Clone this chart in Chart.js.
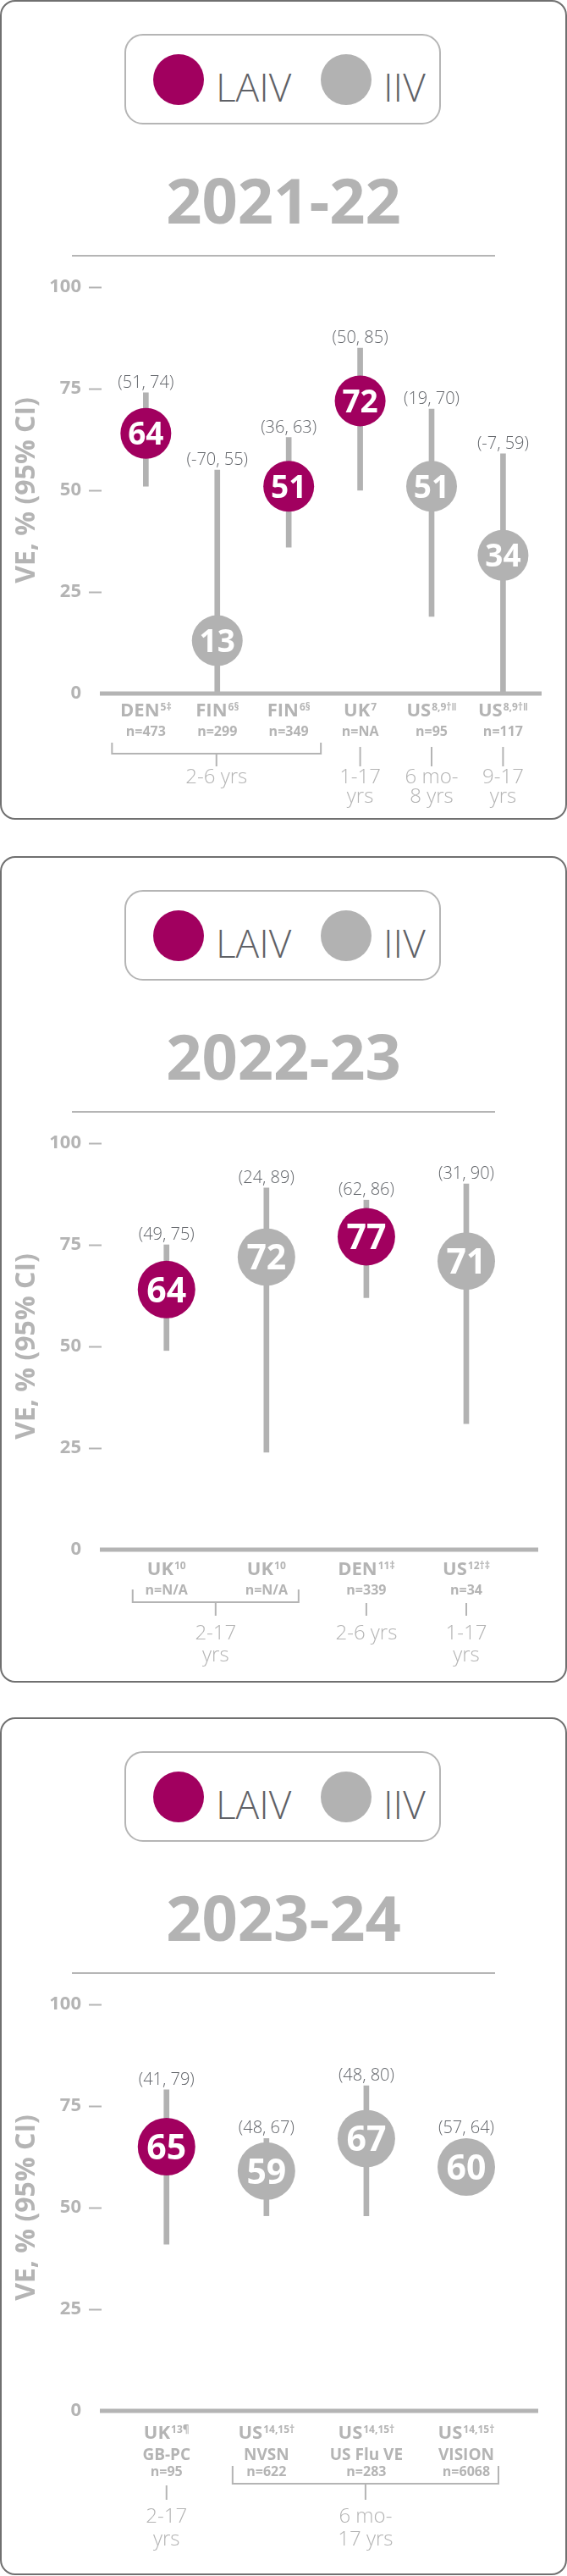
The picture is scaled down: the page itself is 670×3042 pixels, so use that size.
<!DOCTYPE html>
<html>
<head>
<meta charset="utf-8">
<script src="https://cdn.jsdelivr.net/npm/chart.js@4.4.1/dist/chart.umd.min.js"></script>
<style>
  body { margin: 0; background: #fff; font-family: "Open Sans", sans-serif; }
  #page { position: relative; width: 670px; height: 3042px; }
  .panel { position: absolute; left: 0; width: 670px; }
  .frame { position: absolute; left: 0; top: 0; right: 0; bottom: 0; border: 2px solid #707070; border-radius: 18px; box-sizing: border-box; }
  .legend { position: absolute; left: 147px; top: 40px; width: 374px; height: 107px; border: 2px solid #b5b5b5; border-radius: 22px; box-sizing: border-box; }
  .dot { position: absolute; top: 22px; width: 60px; height: 60px; border-radius: 50%; }
  .lab { position: absolute; top: 37px; font-size: 46px; line-height: 46px; color: #5f6166; font-weight: 300; }
  .title { position: absolute; left: 0; top: 199px; width: 670px; text-align: center; font-size: 74px; line-height: 74px; font-weight: 700; color: #b3b3b3; }
  .sep { position: absolute; left: 85px; top: 301px; width: 500px; height: 2px; background: #b5b5b5; }
  canvas { position: absolute; left: 0; top: 0; }
</style>
</head>
<body>
<div id="page"></div>
<script>
// colours
const LAIV_COLOR = '#a1005f';
const IIV_COLOR = '#b2b2b2';
const AXIS_GRAY = '#b4b4b4';

const yTicks = [0, 25, 50, 75, 100];

// 2021-22
const sites2122 = ['DEN', 'FIN', 'FIN', 'UK', 'US', 'US'];
const refs2122 = ['5‡', '6§', '6§', '7', '8,9†‖', '8,9†‖'];
const nLabels2122 = ['n=473', 'n=299', 'n=349', 'n=NA', 'n=95', 'n=117'];
const vaccine2122 = ['LAIV', 'IIV', 'LAIV', 'LAIV', 'IIV', 'IIV'];
const ve2122 = [64, 13, 51, 72, 51, 34];
const ciLow2122 = [51, -70, 36, 50, 19, -7];
const ciHigh2122 = [74, 55, 63, 85, 70, 59];
const ages2122 = [
  { from: 0, to: 2, text: ['2-6 yrs'] },
  { from: 3, to: 3, text: ['1-17', 'yrs'] },
  { from: 4, to: 4, text: ['6 mo-', '8 yrs'] },
  { from: 5, to: 5, text: ['9-17', 'yrs'] }
];

// 2022-23
const sites2223 = ['UK', 'UK', 'DEN', 'US'];
const refs2223 = ['10', '10', '11‡', '12†‡'];
const nLabels2223 = ['n=N/A', 'n=N/A', 'n=339', 'n=34'];
const vaccine2223 = ['LAIV', 'IIV', 'LAIV', 'IIV'];
const ve2223 = [64, 72, 77, 71];
const ciLow2223 = [49, 24, 62, 31];
const ciHigh2223 = [75, 89, 86, 90];
const ages2223 = [
  { from: 0, to: 1, text: ['2-17', 'yrs'] },
  { from: 2, to: 2, text: ['2-6 yrs'] },
  { from: 3, to: 3, text: ['1-17', 'yrs'] }
];

// 2023-24
const sites2324 = ['UK', 'US', 'US', 'US'];
const refs2324 = ['13¶', '14,15†', '14,15†', '14,15†'];
const studies2324 = ['GB-PC', 'NVSN', 'US Flu VE', 'VISION'];
const nLabels2324 = ['n=95', 'n=622', 'n=283', 'n=6068'];
const vaccine2324 = ['LAIV', 'IIV', 'IIV', 'IIV'];
const ve2324 = [65, 59, 67, 60];
const ciLow2324 = [41, 48, 48, 57];
const ciHigh2324 = [79, 67, 80, 64];
const ages2324 = [
  { from: 0, to: 0, text: ['2-17', 'yrs'] },
  { from: 1, to: 3, text: ['6 mo-', '17 yrs'] }
];

const panels = [
  { season: '2021-22', top: 0, height: 968, r: 30, valueFont: 37, xMin: -0.62, xMax: 5.54,
    sites: sites2122, refs: refs2122, nLabels: nLabels2122, vaccine: vaccine2122,
    ve: ve2122, lo: ciLow2122, hi: ciHigh2122, ages: ages2122,
    rows: { name: 19, n: 44, brTop: 58, brBot: 71, stub: 86, tickTop: 63, age1: 97, age2: 120 } },
  { season: '2022-23', top: 1011, height: 976, r: 34, valueFont: 41, xMin: -0.65, xMax: 3.72,
    sites: sites2223, refs: refs2223, nLabels: nLabels2223, vaccine: vaccine2223,
    ve: ve2223, lo: ciLow2223, hi: ciHigh2223, ages: ages2223,
    rows: { name: 22, n: 47, brTop: 47, brBot: 62, stub: 78, tickTop: 63, age1: 97, age2: 123 } },
  { season: '2023-24', top: 2028, height: 1013, r: 34, valueFont: 41, xMin: -0.65, xMax: 3.72,
    sites: sites2324, refs: refs2324, studies: studies2324, nLabels: nLabels2324, vaccine: vaccine2324,
    ve: ve2324, lo: ciLow2324, hi: ciHigh2324, ages: ages2324,
    rows: { name: 25, sub: 51, n: 71, brTop: 65, brBot: 86, stub: 105, tickTop: 88, age1: 123, age2: 150 } }
];

const FONT = '"Open Sans", sans-serif';

// value bubbles text, CI labels, baseline and the study labels under the axis
const veLabels = {
  id: 'veLabels',
  afterDatasetsDraw(chart, args, opts) {
    const p = opts.panel;
    const { ctx, chartArea } = chart;
    const x = chart.scales.x, y = chart.scales.y;
    const y0 = y.getPixelForValue(0);
    ctx.save();

    ctx.strokeStyle = AXIS_GRAY;
    ctx.lineWidth = 5;
    ctx.beginPath();
    ctx.moveTo(chartArea.left - 2, y0);
    ctx.lineTo(chartArea.right, y0);
    ctx.stroke();

    ctx.textAlign = 'center';
    ctx.textBaseline = 'alphabetic';
    chart.getDatasetMeta(0).data.forEach((pt, i) => {
      ctx.fillStyle = '#ffffff';
      ctx.font = `700 ${p.valueFont}px ${FONT}`;
      ctx.fillText(String(p.ve[i]), pt.x, pt.y + p.valueFont * 0.36);

      const top = Math.min(y.getPixelForValue(p.hi[i]), pt.y - p.r);
      ctx.fillStyle = '#63666b';
      ctx.font = `300 20px ${FONT}`;
      ctx.fillText(`(${p.lo[i]}, ${p.hi[i]})`, pt.x, top - 6);
    });

    const rows = p.rows;
    ctx.fillStyle = AXIS_GRAY;
    p.sites.forEach((s, i) => {
      const cx = x.getPixelForValue(i);
      ctx.font = `700 22px ${FONT}`;
      const w1 = ctx.measureText(s).width;
      ctx.font = `700 12px ${FONT}`;
      const w2 = ctx.measureText(p.refs[i]).width + 1;
      const sx = cx - (w1 + w2) / 2;
      ctx.textAlign = 'left';
      ctx.font = `700 22px ${FONT}`;
      ctx.fillText(s, sx, y0 + rows.name + 8);
      ctx.font = `700 12px ${FONT}`;
      ctx.fillText(p.refs[i], sx + w1 + 1, y0 + rows.name + 1);

      ctx.textAlign = 'center';
      if (p.studies) {
        ctx.font = `700 19px ${FONT}`;
        ctx.fillText(p.studies[i], cx, y0 + rows.sub + 7);
      }
      ctx.font = `700 16px ${FONT}`;
      ctx.fillText(p.nLabels[i], cx, y0 + rows.n + 6);
    });

    ctx.strokeStyle = AXIS_GRAY;
    ctx.lineWidth = 2;
    p.ages.forEach(g => {
      const xa = x.getPixelForValue(g.from), xb = x.getPixelForValue(g.to);
      let mid;
      ctx.beginPath();
      if (g.to > g.from) {
        const l = xa - 40, r = xb + 38;
        mid = (l + r) / 2;
        ctx.moveTo(l, y0 + rows.brTop);
        ctx.lineTo(l, y0 + rows.brBot);
        ctx.lineTo(r, y0 + rows.brBot);
        ctx.lineTo(r, y0 + rows.brTop);
        ctx.moveTo(mid, y0 + rows.brBot);
        ctx.lineTo(mid, y0 + rows.stub);
      } else {
        mid = xa;
        ctx.moveTo(mid, y0 + rows.tickTop);
        ctx.lineTo(mid, y0 + rows.stub);
      }
      ctx.stroke();
      ctx.font = `300 24px ${FONT}`;
      ctx.textAlign = 'center';
      g.text.forEach((t, k) => {
        ctx.fillText(t, mid, y0 + (k ? rows.age2 : rows.age1) + 8.5);
      });
    });
    ctx.restore();
  }
};

function buildPanel(p) {
  const page = document.getElementById('page');
  const div = document.createElement('div');
  div.className = 'panel';
  div.style.top = p.top + 'px';
  div.style.height = p.height + 'px';
  div.innerHTML =
    '<div class="frame"></div>' +
    '<div class="legend">' +
      `<div class="dot" style="left:32px;background:${LAIV_COLOR}"></div><div class="lab" style="left:106px">LAIV</div>` +
      `<div class="dot" style="left:230px;background:${IIV_COLOR}"></div><div class="lab" style="left:304px">IIV</div>` +
    '</div>' +
    `<div class="title">${p.season}</div>` +
    '<div class="sep"></div>';
  const canvas = document.createElement('canvas');
  canvas.width = 670;
  canvas.height = p.height;
  canvas.style.width = '670px';
  canvas.style.height = p.height + 'px';
  div.appendChild(canvas);
  page.appendChild(div);

  new Chart(canvas.getContext('2d'), {
    type: 'scatter',
    data: {
      datasets: [
        {
          type: 'scatter',
          order: 0,
          data: p.ve.map((v, i) => ({ x: i, y: v })),
          pointRadius: p.r,
          pointHoverRadius: p.r,
          pointBorderWidth: 0,
          pointBackgroundColor: p.vaccine.map(v => v === 'LAIV' ? LAIV_COLOR : IIV_COLOR)
        },
        {
          type: 'bar',
          order: 1,
          data: p.lo.map((lo, i) => ({ x: i, y: [lo, p.hi[i]] })),
          backgroundColor: IIV_COLOR,
          borderWidth: 0,
          barThickness: 6
        }
      ]
    },
    options: {
      responsive: false,
      animation: false,
      events: [],
      layout: { padding: { top: 339, bottom: p.height - 819, left: 0, right: 16 } },
      plugins: {
        legend: { display: false },
        tooltip: { enabled: false },
        veLabels: { panel: p }
      },
      scales: {
        x: { type: 'linear', display: false, offset: false, min: p.xMin, max: p.xMax },
        y: {
          min: 0,
          max: 100,
          afterBuildTicks: axis => { axis.ticks = yTicks.map(v => ({ value: v })); },
          afterFit: axis => { axis.width = 120; axis.paddingTop = 0; axis.paddingBottom = 0; },
          border: { display: false },
          grid: {
            drawOnChartArea: false,
            drawTicks: true,
            tickLength: 15,
            tickWidth: 2,
            tickColor: c => c.tick && c.tick.value === 0 ? 'rgba(0,0,0,0)' : AXIS_GRAY
          },
          ticks: {
            padding: 9,
            color: AXIS_GRAY,
            font: { family: FONT, size: 22, weight: '700' }
          },
          title: {
            display: true,
            text: 'VE, % (95% CI)',
            color: AXIS_GRAY,
            padding: { top: 13, bottom: 0 },
            font: { family: FONT, size: 32, weight: '700' }
          }
        }
      }
    },
    plugins: [veLabels]
  });
}

Promise.all([
  document.fonts.load(`700 22px "Open Sans"`),
  document.fonts.load(`400 20px "Open Sans"`),
  document.fonts.load(`300 24px "Open Sans"`)
]).then(() => panels.forEach(buildPanel), () => panels.forEach(buildPanel));
</script>
</body>
</html>
